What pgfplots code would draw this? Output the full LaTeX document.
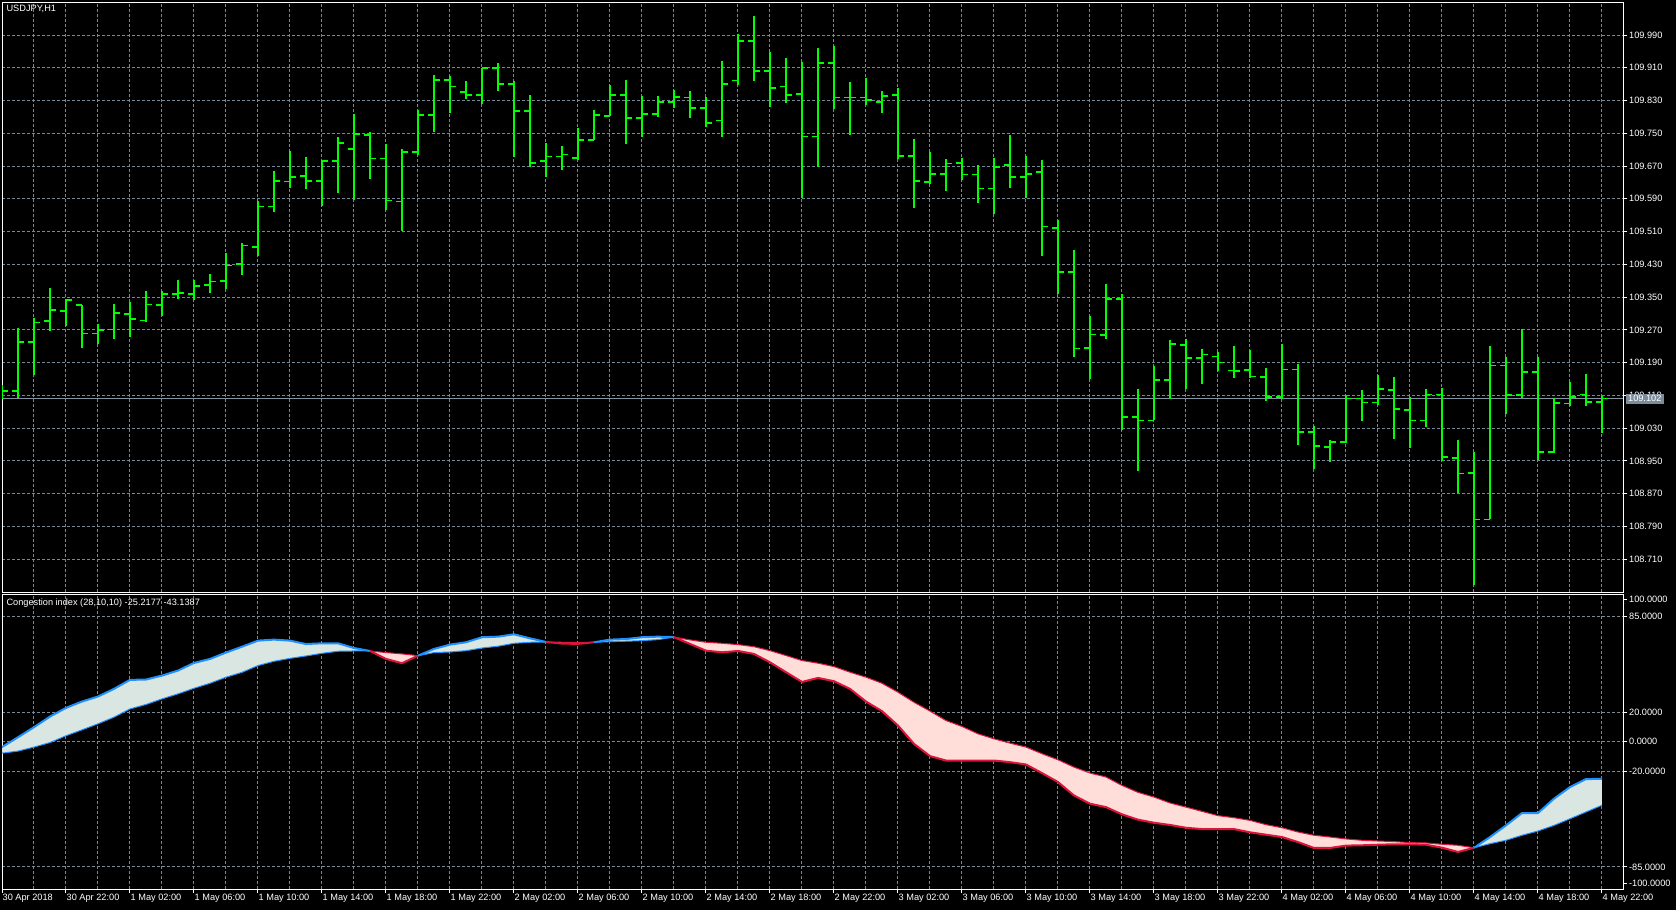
\documentclass[border=0pt]{standalone}
\usepackage{pgfplots}
\pgfplotsset{compat=1.18}
\usepgfplotslibrary{fillbetween}
\usepackage{pgfplotstable}
\usepackage{fontspec}
\setmainfont{Liberation Sans}
\definecolor{gridc}{RGB}{119,136,153}
\definecolor{barc}{RGB}{0,255,0}
\definecolor{dblue}{RGB}{30,144,255}
\definecolor{crim}{RGB}{220,20,60}
\definecolor{bfill}{RGB}{218,230,225}
\definecolor{rfill}{RGB}{255,221,216}
\definecolor{pbox}{RGB}{125,140,155}
\newcommand{\mtfont}{\fontsize{9.2}{10}\selectfont}
\pagecolor{black}

\pgfplotstableread{
k o h l c
0 109.115 109.135 109.100 109.121
1 109.121 109.275 109.104 109.240
2 109.240 109.300 109.159 109.288
3 109.292 109.371 109.267 109.319
4 109.316 109.346 109.279 109.343
5 109.330 109.330 109.226 109.261
6 109.261 109.285 109.236 109.269
7 109.271 109.334 109.248 109.311
8 109.309 109.338 109.253 109.296
9 109.293 109.365 109.289 109.332
10 109.331 109.365 109.303 109.357
11 109.357 109.392 109.346 109.360
12 109.358 109.392 109.344 109.377
13 109.379 109.406 109.360 109.388
14 109.389 109.457 109.370 109.427
15 109.431 109.481 109.404 109.476
16 109.473 109.585 109.450 109.571
17 109.571 109.658 109.559 109.633
18 109.632 109.707 109.616 109.644
19 109.646 109.692 109.614 109.634
20 109.634 109.684 109.572 109.683
21 109.683 109.741 109.605 109.727
22 109.712 109.797 109.587 109.749
23 109.746 109.753 109.638 109.688
24 109.688 109.724 109.562 109.586
25 109.583 109.711 109.512 109.705
26 109.705 109.806 109.697 109.795
27 109.795 109.892 109.754 109.880
28 109.880 109.890 109.800 109.864
29 109.851 109.878 109.834 109.844
30 109.844 109.910 109.822 109.910
31 109.910 109.922 109.854 109.870
32 109.870 109.878 109.693 109.805
33 109.805 109.843 109.667 109.677
34 109.682 109.726 109.644 109.693
35 109.693 109.719 109.660 109.698
36 109.690 109.763 109.684 109.734
37 109.734 109.807 109.734 109.795
38 109.792 109.868 109.792 109.843
39 109.843 109.880 109.724 109.787
40 109.787 109.841 109.742 109.797
41 109.797 109.841 109.790 109.826
42 109.826 109.856 109.813 109.839
43 109.837 109.853 109.787 109.812
44 109.812 109.838 109.765 109.775
45 109.781 109.926 109.742 109.870
46 109.879 109.993 109.868 109.976
47 109.976 110.036 109.878 109.902
48 109.902 109.949 109.815 109.861
49 109.864 109.934 109.825 109.843
50 109.846 109.923 109.592 109.742
51 109.742 109.959 109.668 109.922
52 109.922 109.964 109.810 109.837
53 109.837 109.875 109.746 109.837
54 109.837 109.885 109.818 109.832
55 109.827 109.853 109.800 109.841
56 109.844 109.860 109.687 109.695
57 109.695 109.735 109.568 109.634
58 109.631 109.704 109.627 109.651
59 109.651 109.687 109.609 109.676
60 109.678 109.690 109.636 109.649
61 109.649 109.672 109.580 109.615
62 109.615 109.690 109.553 109.668
63 109.673 109.746 109.617 109.644
64 109.644 109.694 109.592 109.651
65 109.656 109.685 109.450 109.522
66 109.519 109.538 109.357 109.412
67 109.411 109.465 109.204 109.224
68 109.225 109.304 109.149 109.259
69 109.258 109.382 109.248 109.345
70 109.345 109.358 109.025 109.057
71 109.057 109.125 108.925 109.049
72 109.049 109.181 109.049 109.148
73 109.148 109.244 109.100 109.235
74 109.233 109.248 109.125 109.201
75 109.201 109.224 109.138 109.210
76 109.205 109.216 109.170 109.190
77 109.171 109.230 109.152 109.170
78 109.172 109.220 109.152 109.156
79 109.155 109.176 109.095 109.106
80 109.106 109.235 109.100 109.173
81 109.173 109.186 108.989 109.020
82 109.020 109.034 108.930 108.986
83 108.984 109.002 108.948 108.996
84 108.996 109.112 108.994 109.102
85 109.102 109.122 109.047 109.093
86 109.093 109.159 109.086 109.126
87 109.123 109.154 109.003 109.077
88 109.074 109.105 108.981 109.049
89 109.049 109.125 109.033 109.112
90 109.112 109.128 108.950 108.959
91 108.957 109.002 108.871 108.919
92 108.920 108.972 108.646 108.807
93 108.807 109.231 108.807 109.183
94 109.183 109.203 109.065 109.111
95 109.111 109.273 109.104 109.167
96 109.167 109.203 108.953 108.972
97 108.972 109.104 108.970 109.091
98 109.090 109.143 109.083 109.106
99 109.112 109.163 109.083 109.094
100 109.094 109.108 109.018 109.102
}\ohlc

\pgfplotstableread{
k m s
0 -3.7 -7.8
1 3.0 -6.4
2 9.8 -3.7
3 17.0 -0.6
4 22.9 4.0
5 27.2 8.0
6 30.6 12.1
7 35.8 16.6
8 41.9 22.2
9 42.1 25.2
10 44.8 29.0
11 48.2 32.4
12 53.4 36.2
13 56.1 39.6
14 60.4 43.7
15 64.4 47.0
16 68.5 51.6
17 69.2 54.5
18 68.5 56.5
19 66.2 58.1
20 66.7 59.9
21 66.7 61.3
22 63.5 61.5
23 61.5 61.5
24 56.1 60.4
25 53.2 59.5
26 58.3 58.3
27 62.9 60.4
28 65.8 60.8
29 67.4 61.7
30 70.8 63.5
31 71.2 64.7
32 72.8 66.7
33 70.1 67.4
34 67.6 67.6
35 66.5 67.4
36 66.3 67.2
37 67.4 67.4
38 69.2 67.8
39 69.6 68.1
40 70.8 68.5
41 71.2 69.2
42 70.9 70.9
43 66.3 69.0
44 61.7 67.4
45 60.6 66.7
46 61.5 65.8
47 59.5 64.4
48 53.8 61.7
49 47.1 58.4
50 40.5 55.0
51 43.2 53.2
52 41.0 50.9
53 35.8 47.1
54 27.2 43.7
55 20.7 39.6
56 10.9 33.5
57 -1.5 26.7
58 -9.8 20.7
59 -12.8 14.3
60 -12.8 10.3
61 -12.8 5.3
62 -12.8 1.9
63 -13.9 -1.0
64 -15.5 -3.7
65 -21.3 -8.2
66 -27.4 -12.3
67 -36.5 -17.3
68 -42.1 -21.3
69 -44.4 -24.0
70 -49.3 -29.7
71 -52.9 -34.4
72 -55.0 -37.6
73 -56.5 -41.6
74 -58.4 -44.4
75 -59.3 -47.3
76 -59.3 -50.2
77 -59.3 -51.6
78 -61.5 -53.4
79 -63.1 -56.3
80 -64.7 -58.4
81 -68.1 -61.3
82 -72.1 -63.5
83 -72.1 -64.7
84 -70.5 -66.0
85 -70.3 -66.9
86 -69.9 -67.4
87 -69.6 -67.8
88 -69.6 -68.5
89 -69.9 -68.7
90 -71.9 -69.6
91 -74.8 -70.3
92 -72.0 -72.0
93 -64.7 -69.2
94 -56.8 -66.9
95 -48.4 -63.5
96 -48.4 -60.6
97 -38.7 -56.8
98 -30.8 -52.3
99 -25.4 -47.7
100 -25.22 -43.14
}\cgi

\pgfplotsset{
  mtaxis/.style={
    scale only axis, width=1621.4pt,
    xmin=0, xmax=101.34,
    axis line style={white, line width=1pt},
    tick align=outside, major tick length=4pt, minor tick length=0pt,
    ytick pos=right, yticklabel pos=right,
    ytick style={white, line width=1pt},
    every tick label/.append style={font=\mtfont, text=white},
    yticklabel style={anchor=west, inner sep=0.5pt, xshift=1pt},
    major grid style={gridc, line width=1pt, dash pattern=on 3pt off 2pt},
    minor grid style={gridc, line width=1pt, dash pattern=on 3pt off 2pt},
  }
}

\begin{document}
\begin{tikzpicture}[x=1pt,y=1pt]
\path (0,0) rectangle (1676,910);

% ---------------- price panel ----------------
\begin{axis}[mtaxis,
  at={(2pt,317.7pt)}, anchor=south west, height=590pt,
  ymin=108.629, ymax=110.070,
  grid=major,
  xtick={2,4,...,100}, xticklabels={}, xtick style={draw=none},
  ytick={108.71,108.79,108.87,108.95,109.03,109.11,109.19,109.27,109.35,109.43,109.51,109.59,109.67,109.75,109.83,109.91,109.99},
  yticklabels={108.710,108.790,108.870,108.950,109.030,109.110,109.190,109.270,109.350,109.430,109.510,109.590,109.670,109.750,109.830,109.910,109.990},
]
\addplot[gridc!90!white, line width=1pt] coordinates {(0,109.102) (101.34,109.102)};
\addplot[barc, line width=1.6pt, quiver={u=0, v=\thisrow{h}-\thisrow{l}}] table[x=k, y=l] {\ohlc};
\addplot[barc, line width=1.6pt, quiver={u=-0.375, v=0}] table[x=k, y=o] {\ohlc};
\addplot[barc, line width=1.6pt, quiver={u=0.375, v=0}] table[x=k, y=c] {\ohlc};
\coordinate (cp) at (axis cs:101.34,109.102);
\end{axis}

% ---------------- indicator panel ----------------
\begin{axis}[mtaxis,
  at={(2pt,20.9pt)}, anchor=south west, height=294.9pt,
  ymin=-100, ymax=100,
  grid=both,
  xtick={0,4,...,100}, minor xtick={2,6,...,98},
  xtick pos=bottom,
  xtick style={white, line width=1pt},
  xticklabels={30 Apr 2018, 30 Apr 22:00, 1 May 02:00, 1 May 06:00, 1 May 10:00, 1 May 14:00, 1 May 18:00, 1 May 22:00, 2 May 02:00, 2 May 06:00, 2 May 10:00, 2 May 14:00, 2 May 18:00, 2 May 22:00, 3 May 02:00, 3 May 06:00, 3 May 10:00, 3 May 14:00, 3 May 18:00, 3 May 22:00, 4 May 02:00, 4 May 06:00, 4 May 10:00, 4 May 14:00, 4 May 18:00, 4 May 22:00},
  xticklabel style={anchor=north west, inner sep=0.5pt, xshift=0pt},
  ytick={85,20,0,-20,-85},
  yticklabels={85.0000,20.0000,0.0000,-20.0000,-85.0000},
  extra y ticks={96.5,-96.1},
  extra y tick labels={100.0000,-100.0000},
  extra y tick style={grid=none},
]
\addplot[draw=none, name path=M] table[x=k, y=m] {\cgi};
\addplot[draw=none, name path=S] table[x=k, y=s] {\cgi};
\addplot[fill=bfill, draw=none] fill between[of=M and S, soft clip={(axis cs:0,-100) rectangle (axis cs:23,100)}];
\addplot[fill=rfill, draw=none] fill between[of=M and S, soft clip={(axis cs:23,-100) rectangle (axis cs:26,100)}];
\addplot[fill=bfill, draw=none] fill between[of=M and S, soft clip={(axis cs:26,-100) rectangle (axis cs:34,100)}];
\addplot[fill=rfill, draw=none] fill between[of=M and S, soft clip={(axis cs:34,-100) rectangle (axis cs:37,100)}];
\addplot[fill=bfill, draw=none] fill between[of=M and S, soft clip={(axis cs:37,-100) rectangle (axis cs:42,100)}];
\addplot[fill=rfill, draw=none] fill between[of=M and S, soft clip={(axis cs:42,-100) rectangle (axis cs:92,100)}];
\addplot[fill=bfill, draw=none] fill between[of=M and S, soft clip={(axis cs:92,-100) rectangle (axis cs:100,100)}];
% signal line (thin)
\addplot[dblue, line width=1pt, restrict x to domain=0:23] table[x=k, y=s] {\cgi};
\addplot[crim, line width=1pt, restrict x to domain=23:26] table[x=k, y=s] {\cgi};
\addplot[dblue, line width=1pt, restrict x to domain=26:34] table[x=k, y=s] {\cgi};
\addplot[crim, line width=1pt, restrict x to domain=34:37] table[x=k, y=s] {\cgi};
\addplot[dblue, line width=1pt, restrict x to domain=37:42] table[x=k, y=s] {\cgi};
\addplot[crim, line width=1pt, restrict x to domain=42:92] table[x=k, y=s] {\cgi};
\addplot[dblue, line width=1pt, restrict x to domain=92:100] table[x=k, y=s] {\cgi};
% main line (thick)
\addplot[dblue, line width=2pt, restrict x to domain=0:23] table[x=k, y=m] {\cgi};
\addplot[crim, line width=2pt, restrict x to domain=23:26] table[x=k, y=m] {\cgi};
\addplot[dblue, line width=2pt, restrict x to domain=26:34] table[x=k, y=m] {\cgi};
\addplot[crim, line width=2pt, restrict x to domain=34:37] table[x=k, y=m] {\cgi};
\addplot[dblue, line width=2pt, restrict x to domain=37:42] table[x=k, y=m] {\cgi};
\addplot[crim, line width=2pt, restrict x to domain=42:92] table[x=k, y=m] {\cgi};
\addplot[dblue, line width=2pt, restrict x to domain=92:100] table[x=k, y=m] {\cgi};
\end{axis}

% ---------------- texts ----------------
\node[anchor=west, text=white, font=\mtfont, inner sep=0pt] at (6.4,900.7) {USDJPY,H1};
\node[anchor=west, text=white, font=\mtfont, inner sep=0pt] at (6.4,306.7) {Congestion index (28,10,10) -25.2177 -43.1387};
\node[anchor=west, fill=pbox, text=white, font=\mtfont, inner xsep=2.5pt, inner ysep=1pt, minimum height=10pt] at ([xshift=2pt]cp) {109.102};
\pgfresetboundingbox
\useasboundingbox (0,0) rectangle (1676,910);
\end{tikzpicture}
\end{document}
